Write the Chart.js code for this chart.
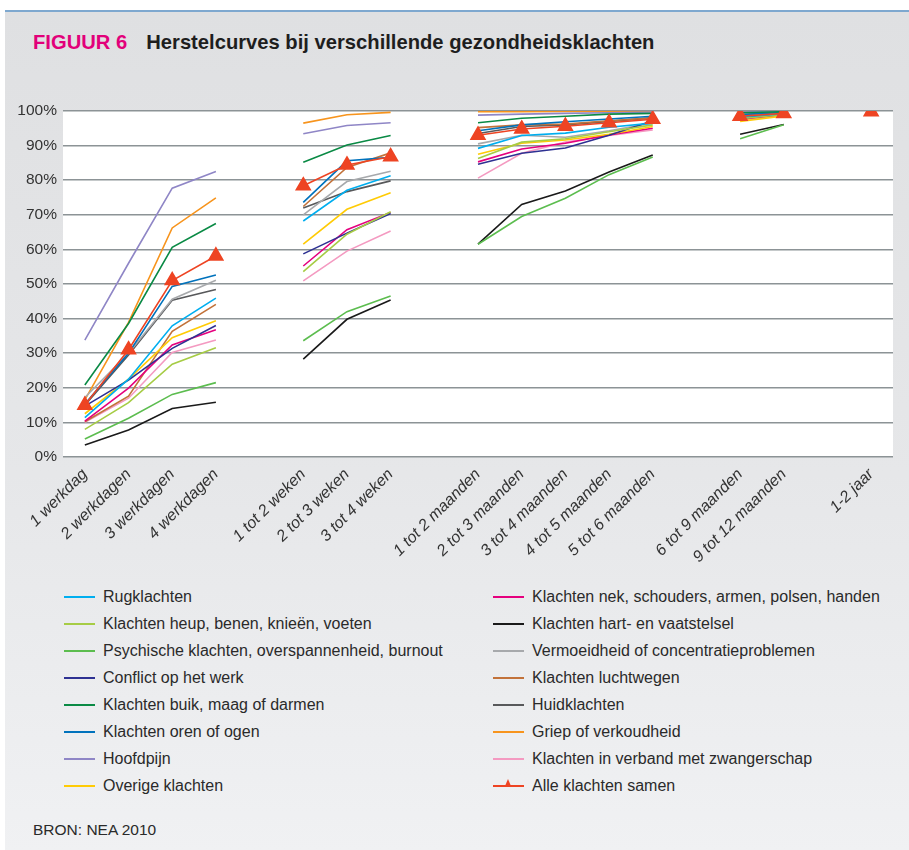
<!DOCTYPE html>
<html lang="nl">
  <head>
    <meta charset="UTF-8" />
    <title>Herstelcurves</title>
    <script src="https://cdn.jsdelivr.net/npm/chart.js"></script>
  </head>
  <style>
    body{
      margin: 0;
      background: #fff;
      font-family: "Liberation Sans", Arial, sans-serif;
    }
    .panel{
      position: absolute;
      left: 5px;
      top: 10px;
      width: 904px;
      height: 840px;
      border-top: 2px solid #7ea8cf;
      background: linear-gradient(#dfe0e2, #e6e7e9 55%, #f0f1f3);
    }
    h1{
      position: absolute;
      left: 28px;
      top: 19px;
      margin: 0;
      font-size: 20.2px;
      font-weight: bold;
      color: #1e1e1e;
      white-space: nowrap;
    }
    h1 .fig{
      color: #e2007a;
      margin-right: 19px;
    }
    .chartBox{
      position: absolute;
      left: -5px;
      top: 67px;
      width: 909px;
      height: 492px;
    }
    #legend{
      position: absolute;
      left: 59px;
      top: 571px;
      display: grid;
      grid-template-columns: 429px 420px;
      grid-template-rows: repeat(8, 27.1px);
      grid-auto-flow: column;
      font-size: 16px;
      color: #2a2a2a;
    }
    #legend div{
      display: flex;
      align-items: center;
    }
    #legend .swatch{
      position: relative;
      width: 31px;
      height: 2px;
      margin-right: 8px;
    }
    #legend .tri{
      position: absolute;
      left: 12px;
      top: -6px;
      width: 0;
      height: 0;
      border-left: 3.5px solid transparent;
      border-right: 3.5px solid transparent;
      border-bottom: 7px solid #ee4423;
    }
    .bron{
      position: absolute;
      left: 28px;
      top: 809px;
      font-size: 15.5px;
      color: #2a2a2a;
    }
  </style>
  <body>
    <div class="panel">
      <h1><span class="fig">FIGUUR 6</span>Herstelcurves bij verschillende gezondheidsklachten</h1>
      <div class="chartBox"><canvas id="myChart"></canvas></div>
      <div id="legend"></div>
      <div class="bron">BRON: NEA 2010</div>
    </div>
  </body>
  <script>
    // categories, empty labels are the gaps between the groups
    var labels = ['1 werkdag','2 werkdagen','3 werkdagen','4 werkdagen','',
      '1 tot 2 weken','2 tot 3 weken','3 tot 4 weken','',
      '1 tot 2 maanden','2 tot 3 maanden','3 tot 4 maanden','4 tot 5 maanden','5 tot 6 maanden','',
      '6 tot 9 maanden','9 tot 12 maanden','',
      '1-2 jaar'];

    var rug        = [11.4,22.5,37.9,45.9,null, 68.2,77.1,81.3,null, 89.2,92.9,93.6,95.3,96.5,null, 98.3,99.2,null,null];
    var heup       = [8.0,15.7,26.8,31.6,null, 53.6,64.4,70.9,null, 86.3,91.0,92.0,94.0,96.0,null, 97.8,99.0,null,null];
    var psychisch  = [5.2,11.2,18.1,21.5,null, 33.6,42.0,46.5,null, 61.5,69.5,74.8,81.6,86.7,null, 92.0,96.0,null,null];
    var conflict   = [14.7,22.2,31.4,38.0,null, 58.7,64.7,70.4,null, 84.6,87.8,89.3,93.0,97.2,null, 98.2,99.1,null,null];
    var buik       = [20.8,38.6,60.6,67.5,null, 85.2,90.2,92.9,null, 96.6,97.9,98.5,99.1,99.3,null, 99.5,99.8,null,null];
    var oren       = [15.3,30.0,49.3,52.6,null, 73.6,85.6,86.6,null, 94.3,96.0,96.9,97.7,98.5,null, 99.0,99.6,null,null];
    var hoofdpijn  = [33.8,56.0,77.7,82.5,null, 93.4,95.8,96.6,null, 98.8,99.1,99.3,99.5,99.7,null, 99.7,99.9,null,null];
    var overige    = [12.5,22.5,34.5,39.4,null, 61.5,71.6,76.4,null, 87.5,90.7,91.6,93.3,95.5,null, 97.0,98.6,null,null];
    var nek        = [10.4,19.9,32.4,36.8,null, 55.2,65.7,70.7,null, 85.3,89.0,90.7,93.1,95.0,null, 97.6,98.9,null,null];
    var hart       = [3.5,7.8,14.0,15.8,null, 28.3,39.8,45.4,null, 61.5,73.0,76.9,82.4,87.3,null, 93.3,96.1,null,null];
    var vermoeid   = [17.2,30.0,45.6,51.1,null, 70.0,79.6,82.6,null, 90.5,93.0,92.4,94.3,96.5,null, 98.5,99.3,null,null];
    var luchtwegen = [10.2,17.6,36.3,44.1,null, 72.4,83.7,87.9,null, 95.2,96.0,96.2,97.2,98.0,null, 99.0,99.5,null,null];
    var huid       = [15.0,29.5,45.3,48.4,null, 72.0,76.7,79.8,null, 93.5,95.5,96.0,97.0,98.0,null, 98.8,99.4,null,null];
    var griep      = [16.5,38.9,66.2,74.9,null, 96.5,98.9,99.6,null, 99.8,99.8,99.9,99.9,99.9,null, 99.9,100,null,null];
    var zwanger    = [10.0,17.0,30.2,33.8,null, 50.9,59.5,65.3,null, 80.6,87.8,91.0,92.9,94.5,null, 97.3,98.8,null,null];
    var alle       = [15.0,31.0,51.0,58.1,null, 78.4,84.4,86.8,null, 93.0,94.8,95.6,96.6,97.6,null, 98.5,99.3,null,99.8];

    var series = [
      ['Rugklachten', rug, '#00aeef'],
      ['Klachten heup, benen, knieën, voeten', heup, '#a6cc45'],
      ['Psychische klachten, overspannenheid, burnout', psychisch, '#5cbd4f'],
      ['Conflict op het werk', conflict, '#2e3192'],
      ['Klachten buik, maag of darmen', buik, '#0a8a45'],
      ['Klachten oren of ogen', oren, '#0072bc'],
      ['Hoofdpijn', hoofdpijn, '#8f86c6'],
      ['Overige klachten', overige, '#ffcb05'],
      ['Klachten nek, schouders, armen, polsen, handen', nek, '#e5007e'],
      ['Klachten hart- en vaatstelsel', hart, '#1a1a1a'],
      ['Vermoeidheid of concentratieproblemen', vermoeid, '#a7a9ac'],
      ['Klachten luchtwegen', luchtwegen, '#c2723a'],
      ['Huidklachten', huid, '#58595b'],
      ['Griep of verkoudheid', griep, '#f7941d'],
      ['Klachten in verband met zwangerschap', zwanger, '#f49ac1'],
      ['Alle klachten samen', alle, '#ee4423']
    ];

    var whiteArea = {
      id: 'whiteArea',
      beforeDraw: function(chart){
        var a = chart.chartArea;
        chart.ctx.save();
        chart.ctx.fillStyle = '#fff';
        chart.ctx.fillRect(a.left, a.top, a.right - a.left, a.bottom - a.top);
        chart.ctx.restore();
      }
    };

    window.onload = function(){
      var datasets = [];
      series.forEach(function(s){
        var isAll = s[0] == 'Alle klachten samen';
        datasets.push({
          label: s[0],
          data: s[1],
          borderColor: s[2],
          backgroundColor: s[2],
          borderWidth: 1.6,
          pointStyle: 'triangle',
          pointRadius: isAll ? 8 : 0,
          pointHoverRadius: isAll ? 8 : 0,
          spanGaps: false,
          tension: 0,
          order: isAll ? 0 : 1
        });
      });

      new Chart(document.getElementById('myChart'), {
        type: 'line',
        data: { labels: labels, datasets: datasets },
        plugins: [whiteArea],
        options: {
          responsive: true,
          maintainAspectRatio: false,
          animation: false,
          layout: { padding: { top: 32, right: 16, left: 0, bottom: 0 } },
          plugins: { legend: { display: false }, tooltip: { enabled: false } },
          scales: {
            x: {
              offset: true,
              grid: { display: false },
              border: { display: false },
              afterFit: function(scale){ scale.height = 114; },
              ticks: {
                autoSkip: false,
                minRotation: 45,
                maxRotation: 45,
                padding: 0,
                color: '#333',
                font: { family: '"Liberation Sans", Arial, sans-serif', size: 16, style: 'italic' }
              }
            },
            y: {
              min: 0,
              max: 100,
              border: { display: false },
              afterFit: function(scale){ scale.width = 63; },
              grid: { color: '#8c9396', lineWidth: 1.5, drawTicks: false },
              ticks: {
                stepSize: 10,
                padding: 6,
                color: '#333',
                font: { family: '"Liberation Sans", Arial, sans-serif', size: 15.5 },
                callback: function(v){ return v + '%'; }
              }
            }
          }
        }
      });

      var legend = document.getElementById('legend');
      series.forEach(function(s){
        var item = document.createElement('div');
        var sw = '<span class="swatch" style="background:' + s[2] + '">' +
          (s[0] == 'Alle klachten samen' ? '<span class="tri"></span>' : '') + '</span>';
        item.innerHTML = sw + '<span>' + s[0] + '</span>';
        legend.appendChild(item);
      });
    };
  </script>
</html>
